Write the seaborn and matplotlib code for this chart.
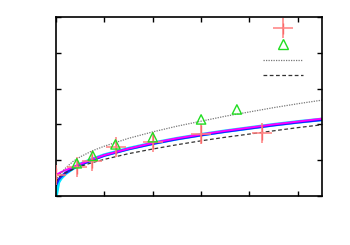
import numpy as np
import pandas as pd
import matplotlib
matplotlib.use("Agg")
import matplotlib.pyplot as plt
import seaborn as sns

red_x = [0.0, 0.43, 0.75, 1.25, 2.0, 3.0, 4.25]
red_y = [0.58, 0.81, 0.98, 1.37, 1.52, 1.72, 1.77]
red_err = [0.2, 0.2, 0.2, 0.2, 0.2, 0.25, 0.2]

green_x = [0.43, 0.76, 1.23, 2.0, 3.0, 3.74]
green_y = [0.91, 1.12, 1.44, 1.64, 2.14, 2.42]

# --- model curves ---
curve_x = [0.0, 0.05, 0.1, 0.2, 0.35, 0.5, 0.75, 1.0, 1.5, 2.0, 2.5, 3.0, 3.5, 4.0, 4.5, 5.0, 5.5]
cyan_y = [0.0, 0.38, 0.49, 0.63, 0.77, 0.88, 1.02, 1.14, 1.32, 1.47, 1.60, 1.71, 1.81, 1.90, 1.99, 2.07, 2.14]
blue_y = [0.30, 0.45, 0.53, 0.64, 0.77, 0.87, 1.00, 1.13, 1.31, 1.46, 1.59, 1.70, 1.80, 1.89, 1.98, 2.06, 2.13]
magenta_y = [0.58, 0.62, 0.66, 0.72, 0.80, 0.89, 1.02, 1.14, 1.32, 1.48, 1.61, 1.72, 1.82, 1.91, 2.00, 2.08, 2.16]
dotted_y = [0.43, 0.55, 0.63, 0.78, 0.96, 1.09, 1.26, 1.39, 1.61, 1.79, 1.95, 2.09, 2.23, 2.35, 2.47, 2.58, 2.68]
dashed_y = [0.38, 0.51, 0.56, 0.65, 0.74, 0.82, 0.93, 1.02, 1.18, 1.31, 1.43, 1.54, 1.64, 1.73, 1.82, 1.91, 1.99]

x_ticks = [0, 1, 2, 3, 4, 5]
y_ticks = [0, 1, 2, 3, 4, 5]

sns.set_style("white")
fig = plt.figure(figsize=(3.5, 2.45), dpi=100)
ax = fig.add_axes([0.16, 0.201, 0.76, 0.728])

curves = pd.DataFrame({"x": curve_x, "cyan": cyan_y, "blue": blue_y,
                       "magenta": magenta_y, "dotted": dotted_y, "dashed": dashed_y})

sns.lineplot(data=curves, x="x", y="cyan", color="#00e5ff", lw=2.6, ax=ax)
sns.lineplot(data=curves, x="x", y="blue", color="#1a1aff", lw=1.8, ax=ax)
sns.lineplot(data=curves, x="x", y="magenta", color="#ff00ff", lw=1.4, ax=ax)
h_dot, = ax.plot(curve_x, dotted_y, color="#777777", lw=0.9, ls=(0, (1, 1)))
h_dash, = ax.plot(curve_x, dashed_y, color="#333333", lw=0.9, ls=(0, (3, 2)))

h_red = ax.errorbar(red_x, red_y, yerr=red_err, fmt="+", color="#ff8080",
                    ecolor="#e62020", elinewidth=0.9, markersize=15, mew=1.1,
                    capsize=0, zorder=5)
sns.scatterplot(x=green_x, y=green_y, marker="^", s=45, facecolor="none",
                edgecolor="#22dd22", linewidth=1.0, ax=ax, zorder=6)
h_green, = ax.plot([], [], ls="none", marker="^", ms=7, mfc="none",
                   mec="#22dd22", mew=1.0)

ax.set_xlim(0, 5.5)
ax.set_ylim(0, 5)
ax.set_xticks(x_ticks)
ax.set_yticks(y_ticks)
ax.set_xticklabels([])
ax.set_yticklabels([])
ax.set_xlabel("")
ax.set_ylabel("")
ax.tick_params(direction="in", length=3.5, width=1.0, top=True, right=True,
               bottom=True, left=True, color="black")
for s in ax.spines.values():
    s.set_color("black")
    s.set_linewidth(1.2)

ax.legend([h_red, h_green, h_dot, h_dash], ["", "", "", ""],
          loc="upper right", bbox_to_anchor=(0.958, 1.005), frameon=False,
          handlelength=3.6, handletextpad=0.0, fontsize=8,
          labelspacing=0.5, borderaxespad=0.3)

fig.savefig("out.png", dpi=100)
